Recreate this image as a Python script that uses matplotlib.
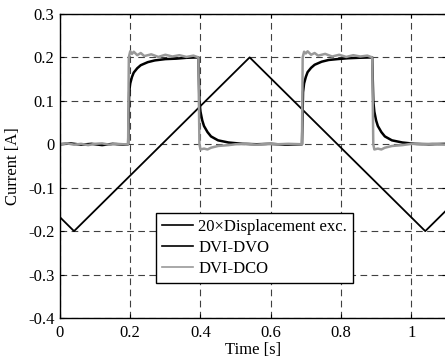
import matplotlib
matplotlib.use("Agg")
import matplotlib.pyplot as plt

plt.rcParams['font.family'] = ['Liberation Serif', 'DejaVu Serif']

# displacement excitation (x20), triangle
t_disp = [0.0, 0.04, 0.54, 1.04, 1.1]
disp = [-0.168, -0.2, 0.2, -0.2, -0.152]

# DVI-DVO current (black)
t_dvo = [0.0, 0.03, 0.06, 0.09, 0.12, 0.15, 0.18, 0.194, 0.197, 0.2, 0.205, 0.21, 0.22,
         0.23, 0.25, 0.27, 0.3, 0.33, 0.36, 0.394, 0.397, 0.4, 0.405, 0.41, 0.42, 0.43,
         0.45, 0.48, 0.52, 0.56, 0.6, 0.64, 0.689, 0.692, 0.695, 0.7, 0.705, 0.715,
         0.725, 0.745, 0.765, 0.79, 0.82, 0.85, 0.889, 0.892, 0.895, 0.9, 0.905, 0.915,
         0.925, 0.945, 0.975, 1.01, 1.05, 1.1]
dvo = [0.0, 0.002, -0.001, 0.001, -0.002, 0.001, -0.001, 0.0, 0.12, 0.14, 0.155, 0.165, 0.175,
       0.182, 0.189, 0.193, 0.196, 0.197, 0.199, 0.2, 0.1, 0.075, 0.055, 0.042, 0.028, 0.018,
       0.009, 0.004, 0.001, 0.0, 0.001, -0.001, 0.0, 0.12, 0.14, 0.155, 0.166, 0.176,
       0.183, 0.19, 0.194, 0.196, 0.198, 0.199, 0.2, 0.1, 0.075, 0.055, 0.042, 0.028,
       0.018, 0.009, 0.004, 0.001, 0.0, 0.001]

# DVI-DCO current (gray)
t_dco = [0.0, 0.02, 0.04, 0.06, 0.08, 0.1, 0.12, 0.14, 0.16, 0.18, 0.194, 0.196, 0.2, 0.205,
         0.21, 0.22, 0.23, 0.24, 0.26, 0.28, 0.3, 0.32, 0.34, 0.36, 0.38, 0.394, 0.397,
         0.4, 0.41, 0.42, 0.43, 0.45, 0.48, 0.5, 0.53, 0.56, 0.59, 0.62, 0.65, 0.689,
         0.691, 0.695, 0.7, 0.705, 0.715, 0.725, 0.735, 0.755, 0.775, 0.795, 0.815, 0.835,
         0.855, 0.875, 0.889, 0.892, 0.895, 0.905, 0.915, 0.925, 0.945, 0.975, 1.0, 1.03,
         1.06, 1.1]
dco = [0.0, 0.002, -0.001, 0.001, -0.002, 0.001, 0.002, -0.001, 0.001, 0.0, 0.0, 0.2, 0.214, 0.208,
       0.213, 0.205, 0.21, 0.203, 0.207, 0.201, 0.206, 0.202, 0.205, 0.201, 0.204, 0.2, 0.0,
       -0.012, -0.01, -0.012, -0.008, -0.004, -0.002, 0.0, 0.001, -0.001, 0.001, 0.0, 0.001, 0.0,
       0.2, 0.213, 0.209, 0.214, 0.206, 0.21, 0.204, 0.208, 0.202, 0.206, 0.201, 0.205,
       0.202, 0.204, 0.2, 0.0, -0.012, -0.01, -0.012, -0.008, -0.004, -0.002, 0.001, 0.0,
       0.001, -0.001]

fig = plt.figure(figsize=(4.45, 3.58), dpi=100)
# right edge of the axes sits just past the figure edge, as in the original crop
ax = fig.add_axes([0.1348, 0.1117, 0.8682, 0.8494])

ax.plot(t_disp, disp, color='black', lw=1.3, label='20\u00d7Displacement exc.')
ax.plot(t_dvo, dvo, color='black', lw=1.8, label='DVI-DVO')
ax.plot(t_dco, dco, color='#999999', lw=1.8, label='DVI-DCO')

ax.set_xlim(0, 1.1)
ax.set_ylim(-0.4, 0.3)
ax.set_xticks([0, 0.2, 0.4, 0.6, 0.8, 1.0])
ax.set_xticklabels(['0', '0.2', '0.4', '0.6', '0.8', '1'])
ax.set_yticks([-0.4, -0.3, -0.2, -0.1, 0, 0.1, 0.2, 0.3])
ax.set_yticklabels(['-0.4', '-0.3', '-0.2', '-0.1', '0', '0.1', '0.2', '0.3'])
ax.tick_params(direction='in', labelsize=12, top=True, right=True, length=3)
ax.tick_params(axis='x', pad=5)
ax.tick_params(axis='y', pad=4)
ax.grid(True, color='0.25', linestyle=(0, (6, 4)), linewidth=0.8)
for s in ax.spines.values():
    s.set_linewidth(1.0)

ax.set_xlabel('Time [s]', fontsize=12, labelpad=1)
ax.set_ylabel('Current [A]', fontsize=12, labelpad=5)

leg = ax.legend(loc='lower left', bbox_to_anchor=(0.248, 0.115), borderaxespad=0,
                fontsize=12, handlelength=1.9, handletextpad=0.3, labelspacing=0.3,
                fancybox=False, framealpha=1, edgecolor='black', borderpad=0.35)
leg.get_frame().set_linewidth(1.0)
for line in leg.get_lines():
    line.set_linewidth(1.2)

fig.savefig('out.png', dpi=100)
